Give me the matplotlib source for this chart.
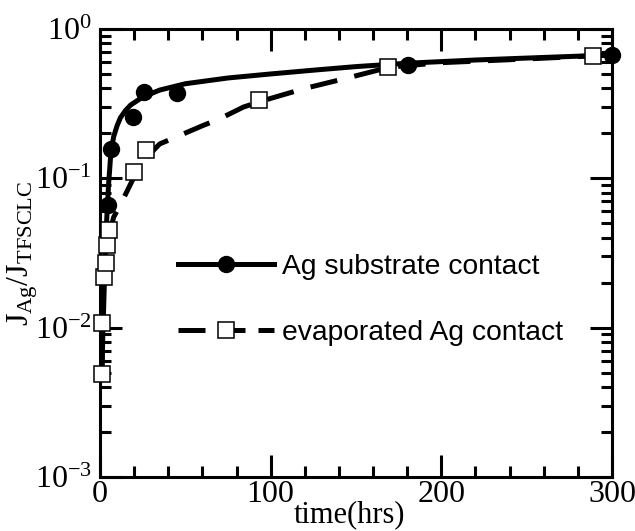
import matplotlib
matplotlib.use("Agg")
import matplotlib.pyplot as plt
from matplotlib.ticker import LogLocator, MultipleLocator, LogFormatterMathtext

plt.rcParams['font.family'] = ['Liberation Serif', 'DejaVu Serif']
plt.rcParams['mathtext.fontset'] = 'custom'
plt.rcParams['mathtext.rm'] = 'Liberation Serif'
plt.rcParams['mathtext.it'] = 'Liberation Serif:italic'

# Ag substrate contact: measured points
sub_t = [4.7, 6.4, 19.3, 25.8, 45, 180.5, 300]
sub_j = [0.066, 0.157, 0.257, 0.38, 0.37, 0.57, 0.67]
# Ag substrate contact: fit curve
sub_fit_t = [1.0, 2.0, 3.0, 4.0, 5.0, 6.4, 8, 10, 12, 15, 18, 25, 35, 50, 75, 100, 125, 150, 180, 220, 260, 300]
sub_fit_j = [0.005, 0.012, 0.03, 0.055, 0.09, 0.15, 0.19, 0.225, 0.255, 0.285, 0.31, 0.35, 0.39, 0.43, 0.47, 0.50, 0.53, 0.56, 0.59, 0.62, 0.645, 0.67]

# evaporated Ag contact: measured points
evp_t = [1.3, 1.3, 2.3, 3.5, 4.1, 5.3, 20, 27, 93, 169, 289]
evp_j = [0.0049, 0.0107, 0.022, 0.027, 0.036, 0.045, 0.11, 0.155, 0.333, 0.556, 0.66]
# evaporated Ag contact: fit curve
evp_fit_t = [1.2, 2.0, 3.5, 5.5, 8, 11.5, 19, 27, 35, 45, 60, 70, 84, 95, 120, 145, 160, 170, 200, 250, 300]
evp_fit_j = [0.005, 0.015, 0.028, 0.042, 0.055, 0.065, 0.097, 0.137, 0.17, 0.19, 0.225, 0.25, 0.30, 0.33, 0.40, 0.47, 0.52, 0.556, 0.595, 0.63, 0.67]

fig = plt.figure(figsize=(6.35, 5.31), dpi=100)
ax = fig.add_axes([100/635, 1-477/531, 512/635, 448/531])

# fit lines
ax.plot(sub_fit_t, sub_fit_j, color='black', lw=3.6, solid_capstyle='butt', zorder=2)
ln, = ax.plot(evp_fit_t, evp_fit_j, color='black', lw=3.6, zorder=2)
ln.set_dashes((5.5, 3.5))
ln.set_dash_capstyle('butt')

# markers
ax.plot(sub_t, sub_j, 'o', color='black', ms=11.5, zorder=4, clip_on=False)
ax.plot(evp_t, evp_j, 's', mfc='white', mec='black', mew=1.1, ms=12, zorder=3, clip_on=False)

# legend proxies
h1, = ax.plot([], [], '-o', color='black', lw=3.6, ms=11.5)
h2, = ax.plot([], [], 's', color='black', lw=3.6, mfc='white', mec='black', mew=1.1, ms=11,
              ls=(0, (5.4, 2.6)), dash_capstyle='butt')
leg = ax.legend([h1, h2], ['Ag substrate contact', 'evaporated Ag contact'],
                loc='center left', bbox_to_anchor=(0.152, 0.396), frameon=False,
                borderpad=0, borderaxespad=0, handlelength=3.4, handletextpad=0.3,
                labelspacing=1.42, numpoints=1,
                prop={'family': ['Liberation Sans'], 'size': 20.3})

ax.set_yscale('log')
ax.set_xlim(0, 300)
ax.set_ylim(1e-3, 1)
ax.xaxis.set_major_locator(MultipleLocator(100))
ax.xaxis.set_minor_locator(MultipleLocator(20))
ax.yaxis.set_major_locator(LogLocator(base=10, numticks=10))
ax.yaxis.set_minor_locator(LogLocator(base=10, subs=range(2, 10), numticks=20))
ax.yaxis.set_major_formatter(LogFormatterMathtext())

for s in ax.spines.values():
    s.set_linewidth(2.2)
ax.tick_params(which='both', direction='in', top=True, right=True, width=2.2, labelsize=23)
ax.tick_params(which='major', length=16)
ax.tick_params(which='minor', length=8)
ax.tick_params(axis='x', pad=2)
ax.tick_params(axis='y', pad=6)

ax.set_xlabel('time(hrs)', fontsize=22)
ax.xaxis.set_label_coords(0.488, -0.052)
ax.set_ylabel(r'$\mathregular{J_{Ag}/J_{TFSCLC}}$', fontsize=23)
ax.yaxis.set_label_coords(-0.117, 0.5)

fig.savefig('out.png', dpi=100)
